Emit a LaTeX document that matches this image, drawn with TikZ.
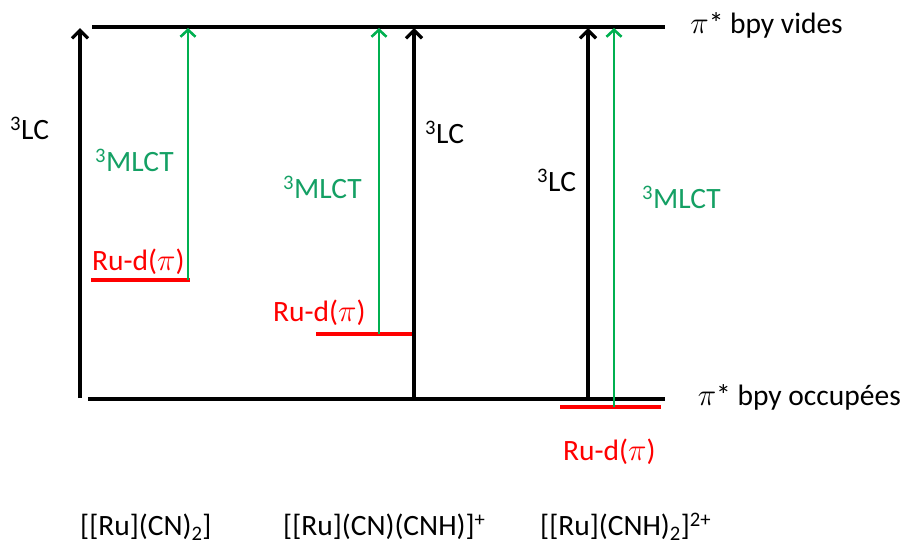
\documentclass[tikz,border=0pt]{standalone}
\usepackage{fontspec}
\setmainfont{Carlito}
\usetikzlibrary{arrows.meta}
\definecolor{mgreen}{RGB}{0,176,80}
\definecolor{tgreen}{RGB}{20,160,100}
\definecolor{mred}{RGB}{255,0,0}
\tikzset{
  level/.style={line width=3.6pt,black},
  rlevel/.style={line width=4.2pt,mred},
  blackarrow/.style={line width=3.2pt,black,-{Straight Barb[length=8pt,width=16pt,line width=3.2pt]}},
  greenarrow/.style={line width=2.6pt,mgreen,-{Straight Barb[length=7pt,width=15pt,line width=2.6pt]}},
  lbl/.style={font=\fontsize{29.5}{34}\selectfont,inner sep=0pt},
}
\newcommand{\bigpi}{\scalebox{1.25}{$\pi$}}
\begin{document}
\begin{tikzpicture}[x=1pt,y=-1pt]
\useasboundingbox (0,0) rectangle (905,547);
% levels
\coordinate (topL) at (92,27);
\coordinate (topR) at (665,27);
\coordinate (botL) at (88,399);
\coordinate (botR) at (665,399);
\draw[level] (topL) -- (topR);
\draw[level] (botL) -- (botR);
% Ru levels
\coordinate (r1a) at (91,280); \coordinate (r1b) at (190,280);
\coordinate (r2a) at (316,334); \coordinate (r2b) at (413,334);
\coordinate (r3a) at (560,407); \coordinate (r3b) at (661,407);
\draw[rlevel] (r1a) -- (r1b);
\draw[rlevel] (r2a) -- (r2b);
\draw[rlevel] (r3a) -- (r3b);
% arrows
\coordinate (b1s) at (80,398); \coordinate (b1e) at (80,28);
\coordinate (g1s) at (188,280); \coordinate (g1e) at (188,28);
\coordinate (g2s) at (379,334); \coordinate (g2e) at (379,28);
\coordinate (b2s) at (414,399); \coordinate (b2e) at (414,28);
\coordinate (b3s) at (588,399); \coordinate (b3e) at (588,28);
\coordinate (g3s) at (614,407); \coordinate (g3e) at (614,28);
\draw[blackarrow] (b1s) -- (b1e);
\draw[greenarrow] (g1s) -- (g1e);
\draw[greenarrow] (g2s) -- (g2e);
\draw[blackarrow] (b2s) -- (b2e);
\draw[blackarrow] (b3s) -- (b3e);
\draw[greenarrow] (g3s) -- (g3e);
% labels
\node[lbl,anchor=west] (lc1) at (10,128) {\textsuperscript{3}LC};
\node[lbl,anchor=west,text=tgreen] (ml1) at (95,160) {\textsuperscript{3}MLCT};
\node[lbl,anchor=west,text=mred] (ru1) at (92,262) {Ru-d(\bigpi)};
\node[lbl,anchor=west] (lc2) at (425,132) {\textsuperscript{3}LC};
\node[lbl,anchor=west,text=tgreen] (ml2) at (283,187) {\textsuperscript{3}MLCT};
\node[lbl,anchor=west,text=mred] (ru2) at (273,313) {Ru-d(\bigpi)};
\node[lbl,anchor=west] (lc3) at (537,180) {\textsuperscript{3}LC};
\node[lbl,anchor=west,text=tgreen] (ml3) at (642,197) {\textsuperscript{3}MLCT};
\node[lbl,anchor=west,text=mred] (ru3) at (563,452) {Ru-d(\bigpi)};
\node[lbl,anchor=east] (vides) at (843,25) {\bigpi* bpy vides};
\node[lbl,anchor=east] (occ) at (901,397) {\bigpi* bpy occupées};
\node[lbl,anchor=west] (c1) at (80,527) {[[Ru](CN)\textsubscript{2}]};
\node[lbl,anchor=west] (c2) at (283,527) {[[Ru](CN)(CNH)]\textsuperscript{+}};
\node[lbl,anchor=west] (c3) at (540,527) {[[Ru](CNH)\textsubscript{2}]\textsuperscript{2+}};
\end{tikzpicture}
\end{document}
